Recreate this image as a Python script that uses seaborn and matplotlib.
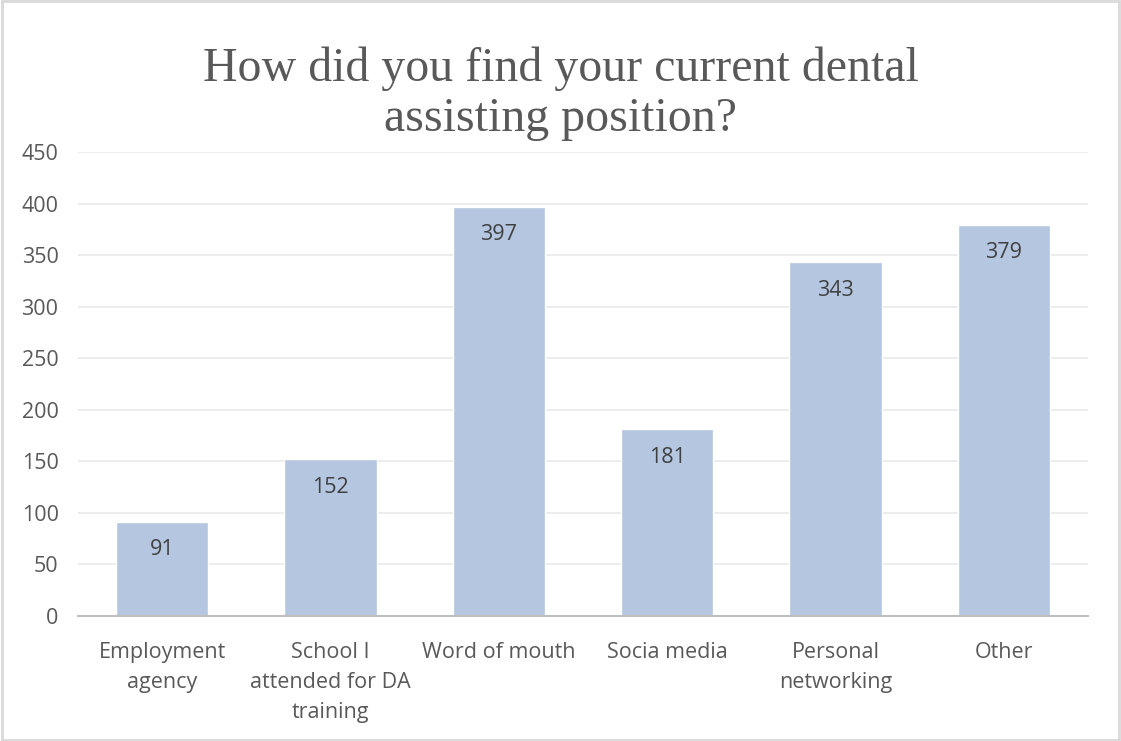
import matplotlib
matplotlib.use("Agg")
import matplotlib.pyplot as plt
import seaborn as sns
import pandas as pd

categories = ["Employment\nagency", "School I\nattended for DA\ntraining", "Word of mouth",
              "Socia media", "Personal\nnetworking", "Other"]
counts = [91, 152, 397, 181, 343, 379]
y_ticks = [0, 50, 100, 150, 200, 250, 300, 350, 400, 450]

sns.set_theme(style="white")
plt.rcParams["font.family"] = ["Open Sans", "DejaVu Sans"]

df = pd.DataFrame({"source": categories, "count": counts})

fig = plt.figure(figsize=(11.21, 7.41), dpi=100)
ax = fig.add_axes([78 / 1121, 125 / 741, 1010 / 1121, 464 / 741])

sns.barplot(data=df, x="source", y="count", color="#B4C6E0", saturation=1,
            width=0.55, ax=ax, zorder=2)

ax.set_ylim(0, 450)
ax.set_yticks(y_ticks)
ax.set_yticklabels([str(t) for t in y_ticks], fontsize=15.5, color="#595959")
ax.yaxis.grid(True, color="#EAEAEA", linewidth=1.2, zorder=0)
ax.set_axisbelow(True)
for side in ["top", "right", "left"]:
    ax.spines[side].set_visible(False)
ax.spines["bottom"].set_color("#BFBFBF")
ax.spines["bottom"].set_linewidth(1.5)
ax.tick_params(axis="y", length=0, pad=14)
ax.tick_params(axis="x", length=0, pad=19)
ax.set_xticklabels(categories, fontsize=15.5, color="#595959", linespacing=1.55)
ax.set_xlabel("")
ax.set_ylabel("")

for i, v in enumerate(counts):
    ax.annotate(str(v), (i, v), xytext=(0, -20), textcoords="offset points",
                ha="center", va="center", fontsize=15.5, color="#404040")

fig.text(0.5, 0.874, "How did you find your current dental\nassisting position?",
         ha="center", va="center", fontsize=34.5, color="#595959",
         family=["Liberation Serif", "DejaVu Serif"], linespacing=1.18)

fig.patches.append(plt.Rectangle((0.002, 0.002), 0.996, 0.996, transform=fig.transFigure,
                                 fill=False, edgecolor="#D9D9D9", linewidth=2))

fig.savefig("out.png", dpi=100)
